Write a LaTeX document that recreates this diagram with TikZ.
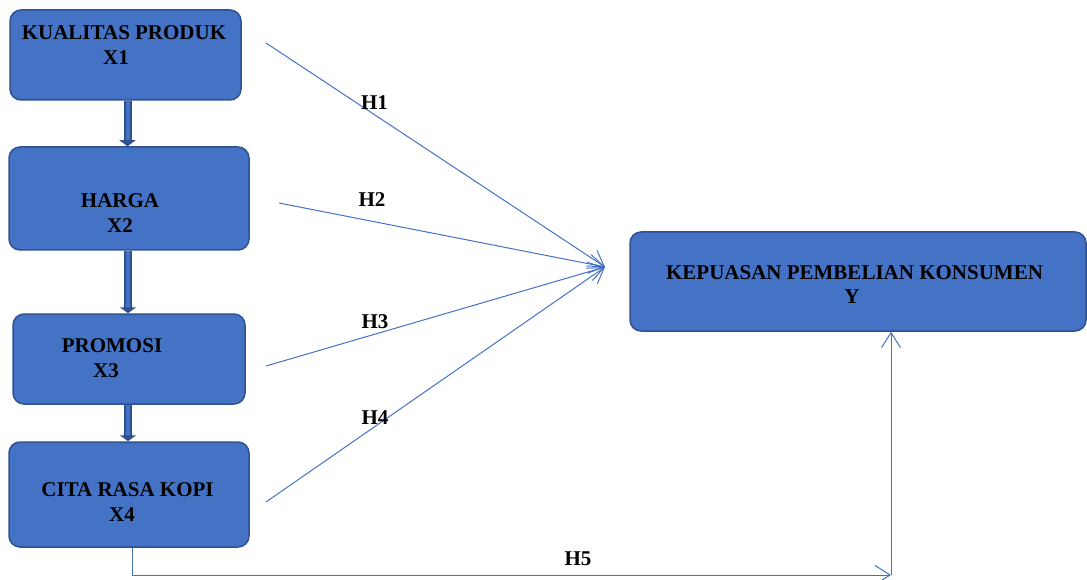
\documentclass[tikz,border=0pt]{standalone}
\usepackage{fontspec}
\setmainfont{Liberation Serif}
\usetikzlibrary{arrows.meta}
\definecolor{boxfill}{HTML}{4472C4}
\definecolor{boxline}{HTML}{2F528F}
\definecolor{thinline}{HTML}{4472C4}
\tikzset{
  box/.style={draw=boxline, fill=boxfill, line width=1.5pt, rounded corners=11pt, inner sep=0pt},
  txt/.style={anchor=base, inner sep=0pt, font=\fontsize{21}{24}\selectfont\bfseries, text=black},
  hyp/.style={draw=thinline, line width=1pt, -{Straight Barb[length=15pt,width=19pt,line width=1pt]}},
  plain/.style={draw=thinline, line width=1pt},
  fat/.style={draw=boxline, line width=2pt, double=boxfill, double distance=4pt, -{Triangle[length=6pt,width=16pt,fill=boxline]}}
}
\begin{document}
\begin{tikzpicture}[x=1pt,y=-1pt]
\useasboundingbox (0,0) rectangle (1087,580);
% boxes
\node[box, minimum width=231pt, minimum height=90pt] (X1) at (125.5,55) {};
\node[box, minimum width=240pt, minimum height=103pt] (X2) at (129,198.5) {};
\node[box, minimum width=232pt, minimum height=90pt] (X3) at (129,359) {};
\node[box, minimum width=240pt, minimum height=105pt] (X4) at (129,494.5) {};
\node[box, minimum width=456pt, minimum height=99pt] (Y) at (858,281.5) {};
% texts
\node[txt] (t1a) at (124,40) {KUALITAS PRODUK};
\node[txt] (t1b) at (116,65) {X1};
\node[txt] (t2a) at (120,208) {HARGA};
\node[txt] (t2b) at (120,233) {X2};
\node[txt] (t3a) at (112,352) {PROMOSI};
\node[txt] (t3b) at (106,377) {X3};
\node[txt] (t4a) at (127.5,496) {CITA RASA KOPI};
\node[txt] (t4b) at (122,521) {X4};
\node[txt] (tya) at (854.5,279) {KEPUASAN PEMBELIAN KONSUMEN};
\node[txt] (tyb) at (852,303) {Y};
% fat arrows
\draw[fat] ([xshift=2pt]X1.south) -- ([xshift=2pt]X1.south |- X2.north);
\draw[fat] ([xshift=-1pt]X2.south) -- ([xshift=-1pt]X2.south |- X3.north);
\draw[fat] ([xshift=-1pt]X3.south) -- ([xshift=-1pt]X3.south |- X4.north);
% hypothesis lines
\coordinate (s1) at (266,43);
\coordinate (s2) at (279,203);
\coordinate (s3) at (266,366);
\coordinate (s4) at (266,502);
\coordinate (meet) at (605,267);
\draw[hyp] (s1) -- (meet);
\draw[hyp] (s2) -- (meet);
\draw[hyp] (s3) -- (meet);
\draw[hyp] (s4) -- (meet);
\coordinate (h5e) at (891,575);
\draw[hyp] ([xshift=3pt]X4.south) |- (h5e);
\draw[hyp] (h5e) -- (h5e |- Y.south);
% labels
\node[txt] (H1) at (374.5,110) {H1};
\node[txt] (H2) at (372,207) {H2};
\node[txt] (H3) at (375,328) {H3};
\node[txt] (H4) at (375,424) {H4};
\node[txt] (H5) at (578,565) {H5};
\end{tikzpicture}
\end{document}
